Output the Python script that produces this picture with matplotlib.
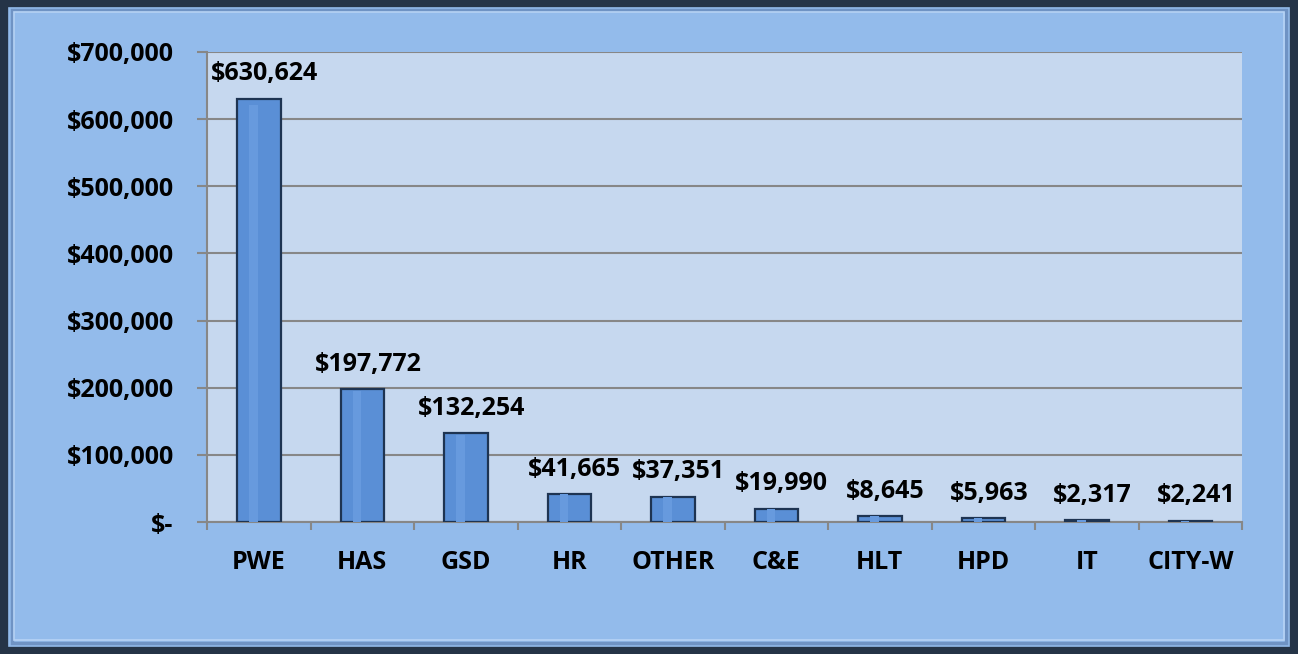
import numpy as np
import matplotlib.pyplot as plt
from matplotlib.patches import Rectangle
from matplotlib.ticker import FuncFormatter

# data
depts = ['PWE', 'HAS', 'GSD', 'HR', 'OTHER', 'C&E', 'HLT', 'HPD', 'IT', 'CITY-W']
amounts = [630624, 197772, 132254, 41665, 37351, 19990, 8645, 5963, 2317, 2241]

plt.rcParams['font.family'] = ['Open Sans', 'DejaVu Sans']

fig = plt.figure(figsize=(12.98, 6.54), dpi=100)
fig.patch.set_facecolor('#93bbeb')

# outer frame with a bit of bevel
fig.patches.append(Rectangle((0.003, 0.005), 0.994, 0.99, transform=fig.transFigure,
                             fill=False, edgecolor='#253447', linewidth=6, zorder=0))
fig.patches.append(Rectangle((0.009, 0.017), 0.982, 0.967, transform=fig.transFigure,
                             fill=False, edgecolor='#6f93c4', linewidth=2.5, zorder=0))
fig.patches.append(Rectangle((0.011, 0.021), 0.978, 0.96, transform=fig.transFigure,
                             fill=False, edgecolor='#b7d3f5', linewidth=1.2, zorder=0))

ax = fig.add_axes([0.1595, 0.2018, 0.7974, 0.7187])
ax.set_facecolor('#c6d8ef')

x = np.arange(len(depts))
bars = ax.bar(x, amounts, width=0.42, color='#5a8fd6', edgecolor='#1e3452',
              linewidth=1.6, zorder=3)
# lighter strip for a slight 3D look
ax.bar(x - 0.05, np.array(amounts) * 0.985, width=0.08, color='#679ade', linewidth=0, zorder=4)

fs = 18
for xi, v in zip(x, amounts):
    ax.annotate('${:,}'.format(v), (xi, v), xytext=(4, 9), textcoords='offset points',
                ha='center', va='bottom', fontsize=fs, fontweight='bold', color='black')

ax.set_xlim(-0.5, len(depts) - 0.5)
ax.set_ylim(0, 700000)
ax.set_yticks(np.arange(0, 700001, 100000))
ax.yaxis.set_major_formatter(FuncFormatter(lambda v, p: '$-' if v == 0 else '${:,.0f}'.format(v)))
ax.yaxis.grid(True, color='#878787', linewidth=1.5, zorder=1)

ax.set_xticks(x)
ax.set_xticklabels(depts)
ax.set_xticks(np.arange(-0.5, len(depts)), minor=True)
ax.tick_params(axis='x', which='major', length=0, pad=20)
ax.tick_params(axis='x', which='minor', length=6, width=1.5, color='#878787')
ax.tick_params(axis='y', length=7, width=1.5, color='#878787', pad=17)

for lab in ax.get_xticklabels() + ax.get_yticklabels():
    lab.set_fontsize(fs)
    lab.set_fontweight('bold')

for s in ['top', 'right']:
    ax.spines[s].set_visible(False)
for s in ['left', 'bottom']:
    ax.spines[s].set_color('#878787')
    ax.spines[s].set_linewidth(1.5)

fig.savefig('out.png', dpi=100, facecolor=fig.get_facecolor())
